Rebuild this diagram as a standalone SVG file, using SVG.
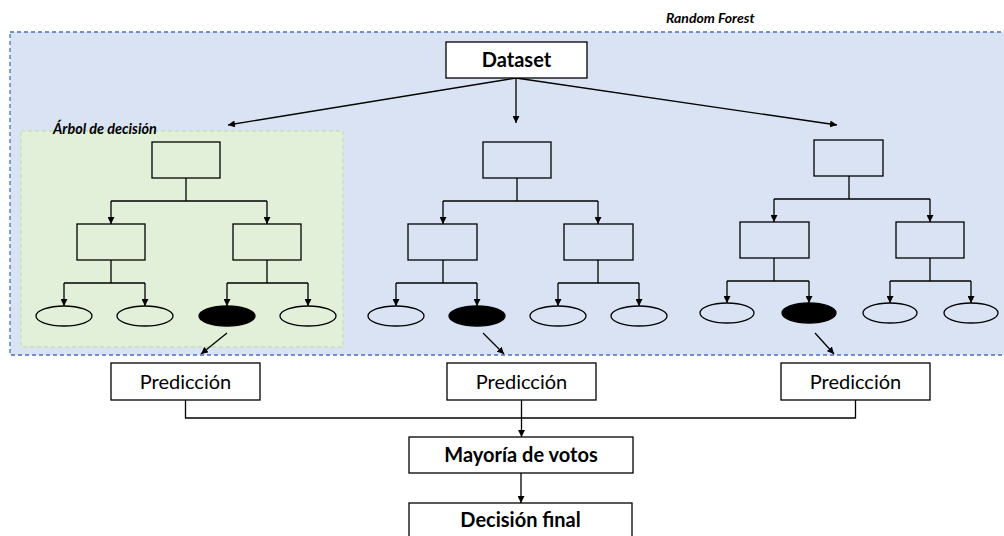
<svg xmlns="http://www.w3.org/2000/svg" width="1004" height="536" viewBox="0 0 1004 536">
<defs>
<style>
.box{fill:none;stroke:#000;stroke-width:1.3}
.wbox{fill:#fff;stroke:#000;stroke-width:1.3}
.leaf{fill:none;stroke:#000;stroke-width:1.3}
.sel{fill:#000;stroke:#000;stroke-width:1.3}
.ln{fill:none;stroke:#000;stroke-width:1.3}
.arr{fill:none;stroke:#000;stroke-width:1.3;marker-end:url(#ah)}
.lbl{font-family:Lato,"Open Sans",sans-serif;font-size:20px;fill:#000;text-anchor:middle}
.bold{font-weight:bold}
.cap{font-family:Lato,"Open Sans",sans-serif;font-weight:bold;font-style:italic;fill:#000}
</style>
<marker id="ah" viewBox="0 0 10 10" refX="10" refY="5" markerWidth="7" markerHeight="7" orient="auto" markerUnits="userSpaceOnUse"><path d="M0,0 L10,5 L0,10 z" fill="#000"/></marker>
</defs>
<rect width="1004" height="536" fill="#fff"/>
<g id="random-forest">
<rect x="10" y="32" width="1010" height="323" fill="#DAE3F3" stroke="#4472C4" stroke-width="1.3" stroke-dasharray="4,3"/>
<text class="cap" x="666" y="23" font-size="14">Random Forest</text>
</g>
<g id="decision-tree-area">
<rect x="21" y="131" width="322" height="216" fill="#E2F0D9" stroke="#C5E0B4" stroke-width="1.3" stroke-dasharray="4,3"/>
<text class="cap" x="53" y="134" font-size="14.4">Árbol de decisión</text>
</g>
<g id="connectors">
<line class="arr" x1="516" y1="78" x2="228" y2="125"/>
<line class="arr" x1="516" y1="78" x2="516" y2="123"/>
<line class="arr" x1="516" y1="78" x2="837" y2="125"/>
<!-- tree 1 -->
<polyline class="ln" points="186,178 186,201"/>
<polyline class="ln" points="111,201 267,201"/>
<line class="arr" x1="111" y1="201" x2="111" y2="224"/>
<line class="arr" x1="267" y1="201" x2="267" y2="224"/>
<polyline class="ln" points="111,260 111,283"/>
<polyline class="ln" points="64,283 145,283"/>
<line class="arr" x1="64" y1="283" x2="64" y2="306"/>
<line class="arr" x1="145" y1="283" x2="145" y2="306"/>
<polyline class="ln" points="267,260 267,283"/>
<polyline class="ln" points="227,283 308,283"/>
<line class="arr" x1="227" y1="283" x2="227" y2="306"/>
<line class="arr" x1="308" y1="283" x2="308" y2="306"/>
<!-- tree 2 -->
<polyline class="ln" points="517,178 517,201"/>
<polyline class="ln" points="443,201 598,201"/>
<line class="arr" x1="443" y1="201" x2="443" y2="224"/>
<line class="arr" x1="598" y1="201" x2="598" y2="224"/>
<polyline class="ln" points="443,260 443,283"/>
<polyline class="ln" points="396,283 477,283"/>
<line class="arr" x1="396" y1="283" x2="396" y2="306"/>
<line class="arr" x1="477" y1="283" x2="477" y2="306"/>
<polyline class="ln" points="598,260 598,283"/>
<polyline class="ln" points="558,283 639,283"/>
<line class="arr" x1="558" y1="283" x2="558" y2="306"/>
<line class="arr" x1="639" y1="283" x2="639" y2="306"/>
<!-- tree 3 -->
<polyline class="ln" points="849,176 849,199"/>
<polyline class="ln" points="774,199 930,199"/>
<line class="arr" x1="774" y1="199" x2="774" y2="222"/>
<line class="arr" x1="930" y1="199" x2="930" y2="222"/>
<polyline class="ln" points="774,258 774,281"/>
<polyline class="ln" points="727,281 809,281"/>
<line class="arr" x1="727" y1="281" x2="727" y2="303"/>
<line class="arr" x1="809" y1="281" x2="809" y2="303"/>
<polyline class="ln" points="930,258 930,281"/>
<polyline class="ln" points="890,281 971,281"/>
<line class="arr" x1="890" y1="281" x2="890" y2="303"/>
<line class="arr" x1="971" y1="281" x2="971" y2="303"/>
<!-- leaves to predictions -->
<line class="arr" x1="227" y1="333" x2="201" y2="354"/>
<line class="arr" x1="483" y1="333" x2="504" y2="354"/>
<line class="arr" x1="815" y1="333" x2="834" y2="354"/>
<!-- predictions to vote -->
<polyline class="ln" points="185.5,400 185.5,418 855.5,418 855.5,400"/>
<line class="arr" x1="521.5" y1="400" x2="521.5" y2="437"/>
<line class="arr" x1="521" y1="473" x2="521" y2="503"/>
</g>
<g id="dataset">
<rect class="wbox" x="446" y="42" width="141" height="36"/>
<text class="lbl bold" x="516.5" y="67" font-size="18.6">Dataset</text>
</g>
<g id="tree1">
<rect class="box" x="152" y="142" width="68" height="36"/>
<rect class="box" x="77" y="224" width="68" height="36"/>
<rect class="box" x="233" y="224" width="68" height="36"/>
<ellipse class="leaf" cx="64" cy="316" rx="28" ry="10"/>
<ellipse class="leaf" cx="145" cy="316" rx="28" ry="10"/>
<ellipse class="sel" cx="227" cy="316" rx="28" ry="10"/>
<ellipse class="leaf" cx="308" cy="316" rx="28" ry="10"/>
</g>
<g id="tree2">
<rect class="box" x="483" y="142" width="68" height="36"/>
<rect class="box" x="408" y="224" width="69" height="36"/>
<rect class="box" x="564" y="224" width="69" height="36"/>
<ellipse class="leaf" cx="396" cy="316" rx="28" ry="10"/>
<ellipse class="sel" cx="477" cy="316" rx="28" ry="10"/>
<ellipse class="leaf" cx="558" cy="316" rx="28" ry="10"/>
<ellipse class="leaf" cx="639" cy="316" rx="28" ry="10"/>
</g>
<g id="tree3">
<rect class="box" x="814" y="140" width="69" height="36"/>
<rect class="box" x="740" y="222" width="69" height="36"/>
<rect class="box" x="896" y="222" width="68" height="36"/>
<ellipse class="leaf" cx="727" cy="313" rx="27" ry="10"/>
<ellipse class="sel" cx="809" cy="313" rx="27" ry="10"/>
<ellipse class="leaf" cx="890" cy="313" rx="27" ry="10"/>
<ellipse class="leaf" cx="971" cy="313" rx="27" ry="10"/>
</g>
<g id="prediccion1">
<rect class="wbox" x="111" y="363" width="149" height="37"/>
<text class="lbl" x="185.5" y="388.5">Predicción</text>
</g>
<g id="prediccion2">
<rect class="wbox" x="447" y="363" width="149" height="37"/>
<text class="lbl" x="521.5" y="388.5">Predicción</text>
</g>
<g id="prediccion3">
<rect class="wbox" x="781" y="363" width="149" height="37"/>
<text class="lbl" x="855.5" y="388.5">Predicción</text>
</g>
<g id="mayoria">
<rect class="wbox" x="409" y="437" width="224" height="36"/>
<text class="lbl bold" x="521" y="462" font-size="19.2">Mayoría de votos</text>
</g>
<g id="decision-final">
<rect class="wbox" x="409" y="503" width="223" height="40"/>
<text class="lbl bold" x="520.5" y="527" font-size="19">Decisión final</text>
</g>
</svg>
